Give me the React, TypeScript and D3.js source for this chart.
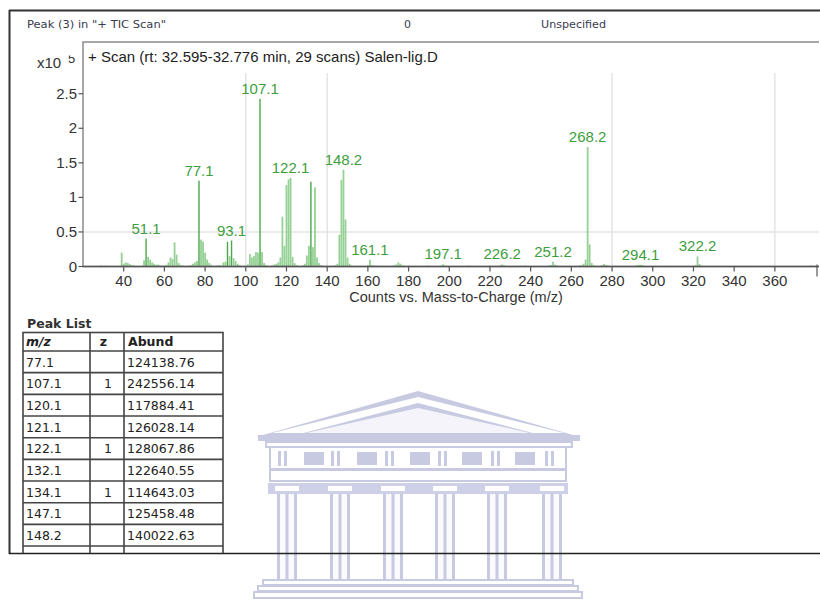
import React from "react";
import * as d3 from "d3";

// Spectrum peaks: m/z and abundance (counts)
const peakMz = [
  29, 31, 39, 40, 41, 42, 43, 44, 45, 50, 51, 52, 53, 54, 55, 56, 57, 58, 60, 61, 62, 63, 64, 65, 66, 67, 68, 69,
  73, 74, 75, 76, 77, 78, 79, 80, 81, 82, 83, 86, 87, 89, 90, 91, 92, 93, 94, 95, 96, 97,
  101, 102, 103, 104, 105, 106, 107, 108, 109, 110, 113, 114, 115, 116, 117, 118, 119, 120, 121, 122, 123, 124, 125,
  128, 129, 130, 131, 132, 133, 134, 135, 136, 137, 144, 145, 146, 147, 148, 149, 150, 151, 152,
  160, 161, 162, 163, 165, 173, 174, 175, 176, 177, 178, 180, 189, 190, 196, 197, 198, 205, 209, 210, 220,
  225, 226, 227, 235, 237, 249, 250, 251, 252, 253, 264, 265, 266, 267, 268, 269, 270, 271, 275, 276, 277, 278,
  286, 292, 293, 294, 295, 307, 321, 322, 323, 324, 345, 378,
];
const peakAbund = [
  1500, 1200, 20000, 4000, 6000, 5000, 3500, 2000, 1500, 9000, 40500, 14000, 10000, 6000, 4000, 2500, 3000, 1500, 1500, 2500, 6000, 13000, 11000, 35000, 17000, 5000, 2000, 1500,
  2000, 4000, 6000, 8000, 124138.76, 39000, 36000, 20000, 10000, 5000, 2500, 1500, 2000, 6000, 7000, 35700, 15000, 37600, 12000, 8000, 4000, 2000,
  3000, 18000, 13000, 15000, 21000, 20000, 242556.14, 21000, 5000, 2000, 1500, 3000, 4000, 6000, 13000, 72000, 30000, 117884.41, 126028.14, 128067.86, 14000, 5000, 2000,
  1500, 4000, 16000, 30000, 122640.55, 28000, 114643.03, 13000, 5000, 2000, 2000, 4000, 46000, 125458.48, 140022.63, 68000, 13000, 4000, 1500,
  2000, 9700, 2000, 1500, 1200, 2000, 3000, 5800, 4000, 2000, 1200, 1000, 1000, 1500, 1500, 3300, 1500, 1000, 1200, 1500, 1200,
  2000, 3000, 2000, 1200, 1500, 1500, 2000, 7000, 2500, 1500, 1500, 2000, 4000, 10000, 172700, 32000, 5000, 2000, 2000, 3500, 2500, 1500,
  1000, 2000, 2500, 2500, 2000, 1000, 2000, 14500, 3500, 1500, 800, 1800,
];
// Peaks drawn in the stronger green
const strongMz = [51, 77, 91, 93, 107, 132];

// Annotated peaks: label text and the integer m/z bar it sits on
const labelText = ["51.1", "77.1", "93.1", "107.1", "122.1", "148.2", "161.1", "197.1", "226.2", "251.2", "268.2", "294.1", "322.2"];
const labelMz = [51, 77, 93, 107, 122, 148, 161, 197, 226, 251, 268, 294, 322];

const xTicks = [40, 60, 80, 100, 120, 140, 160, 180, 200, 220, 240, 260, 280, 300, 320, 340, 360];
const yTicks = [0, 50000, 100000, 150000, 200000, 250000];
const yTickLabels = ["0", "0.5", "1", "1.5", "2", "2.5"];
const gridMz = [100, 140, 280, 360];
const gridAbund = [50000];

// Peak list table
const tableMz = ["77.1", "107.1", "120.1", "121.1", "122.1", "132.1", "134.1", "147.1", "148.2"];
const tableZ = ["", "1", "", "", "1", "", "1", "", ""];
const tableAbund = ["124138.76", "242556.14", "117884.41", "126028.14", "128067.86", "122640.55", "114643.03", "125458.48", "140022.63"];

const W = 820;
const H = 603;
const frame = { left: 83, top: 42, right: 819, bottom: 266.5 };

const x = d3.scaleLinear().domain([20, 381.7]).range([frame.left, frame.right]);
const y = d3.scaleLinear().domain([0, 280000]).range([frame.bottom, 73]);

const GREEN_TEXT = "#3d9e3d";
const GREEN_STRONG = "#4aa84a";
const GREEN_LIGHT = "#95d195";
const AXIS_TEXT = "#333";
const SANS = "'Liberation Sans', Arial, sans-serif";
const UI = "'DejaVu Sans', Verdana, sans-serif";

function Watermark() {
  const c = "#c7cae1";
  const solid = "#cdd0e6";
  const cols = [287, 340, 393, 445, 497, 552];
  const frieze = [
    { t: true, x: 278 }, { t: false, x: 304 }, { t: true, x: 331 }, { t: false, x: 357 },
    { t: true, x: 385 }, { t: false, x: 410 }, { t: true, x: 438 }, { t: false, x: 462 },
    { t: true, x: 491 }, { t: false, x: 515 }, { t: true, x: 545 },
  ];
  return (
    <g>
      {/* pediment */}
      <polygon points="256,437 418,391 580,437" fill={c} />
      <polygon points="272,433 418,397 564,433" fill="#fff" />
      <polygon points="292,436 418,403 544,436" fill={c} />
      <polygon points="306,433 418,408 530,433" fill="#f4f4fa" />
      {/* cornice and frieze */}
      <rect x={258} y={435} width={322} height={6} fill={c} />
      <rect x={266} y={442} width={306} height={5} fill="#fff" stroke={c} strokeWidth={2} />
      <rect x={270} y={447} width={296} height={22} fill="#fff" stroke={c} strokeWidth={2} />
      {frieze.map((f, i) =>
        f.t ? (
          <g key={i}>
            <rect x={f.x} y={451} width={3} height={15} fill={c} />
            <rect x={f.x + 6} y={451} width={3} height={15} fill={c} />
          </g>
        ) : (
          <rect key={i} x={f.x} y={452} width={20} height={13} fill={c} />
        )
      )}
      <rect x={270} y={470} width={296} height={11} fill="#fff" stroke={c} strokeWidth={2} />
      <rect x={268} y={483} width={300} height={11} fill={solid} />
      {cols.map((cx, i) => (
        <g key={i}>
          <rect x={cx - 12} y={486} width={24} height={5} fill="#fff" />
          <rect x={cx - 10} y={494} width={20} height={86} fill="#fbfbfd" />
          <rect x={cx - 10} y={494} width={3} height={86} fill={c} />
          <rect x={cx - 1.5} y={494} width={3} height={86} fill={c} />
          <rect x={cx + 7} y={494} width={3} height={86} fill={c} />
        </g>
      ))}
      {/* steps */}
      <rect x={263} y={580} width={310} height={5} fill="#fff" stroke={c} strokeWidth={2} />
      <rect x={258} y={586} width={320} height={5} fill="#fff" stroke={c} strokeWidth={2} />
      <rect x={254} y={592} width={328} height={6} fill="#fff" stroke={c} strokeWidth={2} />
    </g>
  );
}

export default function App() {
  const peaks = peakMz.map((m, i) => ({ mz: m, v: peakAbund[i] }));
  const abundAt = (m: number) => peakAbund[peakMz.indexOf(m)];
  const rowH = 21.67;
  const tableTop = 332.5;
  const headerBottom = 351;

  return (
    <svg
      width={W}
      height={H}
      viewBox={`0 0 ${W} ${H}`}
      style={{ position: "absolute", left: 0, top: 0, background: "#fff" }}
    >
      <defs>
        <clipPath id="expClip">
          <rect x={60} y={55.5} width={30} height={20} />
        </clipPath>
        <clipPath id="tableClip">
          <rect x={0} y={300} width={300} height={253} />
        </clipPath>
      </defs>
      <rect width={W} height={H} fill="#fff" />

      <Watermark />

      {/* outer report frame */}
      <line x1={9} x2={W} y1={10.5} y2={10.5} stroke="#333" strokeWidth={2} />
      <line x1={9.5} x2={9.5} y1={10} y2={554} stroke="#333" strokeWidth={2} />
      <line x1={9} x2={W} y1={553.5} y2={553.5} stroke="#222" strokeWidth={1.6} />

      {/* header row */}
      <g fontFamily={UI} fontSize={11} fill="#3a3a50">
        <text x={27} y={28} textLength={139} lengthAdjust="spacingAndGlyphs">Peak (3) in "+ TIC Scan"</text>
        <text x={404} y={28}>0</text>
        <text x={541} y={28} textLength={65} lengthAdjust="spacingAndGlyphs">Unspecified</text>
      </g>

      {/* grid */}
      <g stroke="#e4e4e4" strokeWidth={1.5}>
        {gridMz.map((m) => (
          <line key={m} x1={x(m)} x2={x(m)} y1={73} y2={frame.bottom} />
        ))}
        {gridAbund.map((v) => (
          <line key={v} x1={frame.left} x2={frame.right} y1={y(v)} y2={y(v)} />
        ))}
      </g>

      {/* spectrum bars */}
      <g>
        {peaks.map((p) => {
          const strong = strongMz.includes(p.mz);
          return (
            <rect
              key={p.mz}
              x={x(p.mz) - (strong ? 0.7 : 0.9)}
              y={y(p.v)}
              width={strong ? 1.4 : 1.8}
              height={frame.bottom - y(p.v)}
              fill={strong ? GREEN_STRONG : GREEN_LIGHT}
            />
          );
        })}
      </g>

      {/* peak labels */}
      <g fontFamily={SANS} fontSize={15} fill={GREEN_TEXT} textAnchor="middle">
        {labelText.map((t, i) => (
          <text key={t} x={x(labelMz[i])} y={y(abundAt(labelMz[i])) - 5}>
            {t}
          </text>
        ))}
      </g>

      {/* plot frame */}
      <path
        d={`M${frame.right},${frame.top} H${frame.left} V${frame.bottom} H${frame.right}`}
        fill="none"
        stroke="#8a8a8a"
        strokeWidth={1.5}
      />
      <line x1={frame.left} x2={frame.right} y1={frame.bottom} y2={frame.bottom} stroke="#555" strokeWidth={1.5} />
      <line x1={frame.right - 2} x2={frame.right - 2} y1={frame.bottom - 2} y2={frame.bottom + 10} stroke="#555" strokeWidth={1.2} />

      {/* title */}
      <text x={88} y={62} fontFamily={SANS} fontSize={15} fill="#222">
        + Scan (rt: 32.595-32.776 min, 29 scans) Salen-lig.D
      </text>

      {/* y axis */}
      <g fontFamily={SANS} fontSize={15} fill={AXIS_TEXT}>
        <text x={37} y={68}>x10</text>
        <text x={68} y={63} fontSize={13} clipPath="url(#expClip)">5</text>
        {yTicks.map((v, i) => (
          <g key={v}>
            <line x1={78.5} x2={frame.left} y1={y(v)} y2={y(v)} stroke="#555" strokeWidth={1.2} />
            <text x={77} y={y(v) + 5} textAnchor="end">
              {yTickLabels[i]}
            </text>
          </g>
        ))}
      </g>

      {/* x axis */}
      <g fontFamily={SANS} fontSize={15} fill={AXIS_TEXT}>
        {xTicks.map((m) => (
          <g key={m}>
            <line x1={x(m)} x2={x(m)} y1={frame.bottom} y2={frame.bottom + 5} stroke="#555" strokeWidth={1.2} />
            <text x={x(m)} y={286} textAnchor="middle">
              {m}
            </text>
          </g>
        ))}
        <text x={456} y={302} textAnchor="middle" fontSize={14.5}>
          Counts vs. Mass-to-Charge (m/z)
        </text>
      </g>

      {/* peak list */}
      <text x={27} y={328} fontFamily={UI} fontSize={12.5} fontWeight="bold" fill="#333">
        Peak List
      </text>
      <g clipPath="url(#tableClip)" fontFamily={UI} fontSize={12.5} fill="#222">
        <rect x={23} y={tableTop} width={200} height={260} fill="none" stroke="#444" strokeWidth={1.6} />
        <line x1={90} x2={90} y1={tableTop} y2={600} stroke="#444" strokeWidth={1.6} />
        <line x1={124} x2={124} y1={tableTop} y2={600} stroke="#444" strokeWidth={1.6} />
        <line x1={23} x2={223} y1={headerBottom} y2={headerBottom} stroke="#444" strokeWidth={1.6} />
        <text x={26} y={346} fontWeight="bold" fontStyle="italic">m/z</text>
        <text x={107} y={346} fontWeight="bold" textAnchor="end">z</text>
        <text x={128} y={346} fontWeight="bold">Abund</text>
        {tableMz.map((m, i) => {
          const top = headerBottom + i * rowH;
          return (
            <g key={m}>
              <line x1={23} x2={223} y1={top + rowH} y2={top + rowH} stroke="#444" strokeWidth={1.6} />
              <text x={26} y={top + 15.5}>{m}</text>
              <text x={112} y={top + 15.5} textAnchor="end">{tableZ[i]}</text>
              <text x={127} y={top + 15.5}>{tableAbund[i]}</text>
            </g>
          );
        })}
      </g>
    </svg>
  );
}
